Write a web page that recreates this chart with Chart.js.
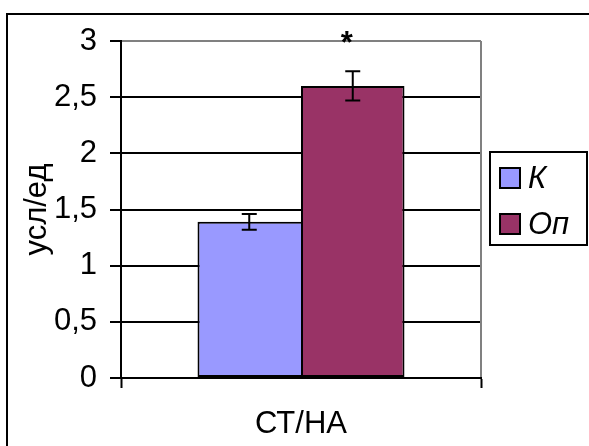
<!DOCTYPE html>
<html lang="ru">
<head>
    <meta charset="UTF-8">
    <title>СТ/НА</title>
    <script src="https://cdn.jsdelivr.net/npm/chart.js@4.4.1/dist/chart.umd.min.js"></script>
    <style>
        html, body {
            margin: 0;
            padding: 0;
            background: #fff;
        }
        .chart-box {
            position: relative;
            width: 589px;
            height: 446px;
        }
    </style>
</head>
<body>
    <div class="chart-box">
        <canvas id="chart"></canvas>
    </div>

    <script>
        // data
        const categories = ['СТ/НА'];
        const seriesNames = ['К', 'Оп'];
        const kValues = [1.39];
        const kErrors = [0.07];
        const opValues = [2.6];
        const opErrors = [0.13];
        const opMarks = ['*'];
        const yMin = 0;
        const yMax = 3;
        const yStep = 0.5;

        const colors = ['#9999ff', '#993366'];
        const errors = [kErrors, opErrors];
        const marks = [[], opMarks];
        const FONT = "'Liberation Sans', Arial, sans-serif";
        const SIZE = 31;

        // frame, right plot border, error bars, asterisk, legend
        const decorations = {
            id: 'decorations',
            beforeDraw(chart) {
                const c = chart.ctx;
                c.save();
                c.fillStyle = '#fff';
                c.fillRect(0, 0, chart.width, chart.height);
                c.strokeStyle = '#000';
                c.lineWidth = 2;
                c.strokeRect(7, 14, chart.width + 20, chart.height + 20);
                c.restore();
            },
            afterDatasetsDraw(chart) {
                const c = chart.ctx;
                const area = chart.chartArea;
                const y = chart.scales.y;
                c.save();
                // grey right border of the plot area
                c.strokeStyle = '#808080';
                c.lineWidth = 2;
                c.beginPath();
                c.moveTo(area.right, area.top);
                c.lineTo(area.right, area.bottom - 1);
                c.stroke();

                // error bars
                c.strokeStyle = '#000';
                c.lineWidth = 2;
                chart.data.datasets.forEach((ds, di) => {
                    chart.getDatasetMeta(di).data.forEach((bar, i) => {
                        const v = ds.data[i];
                        const e = errors[di][i];
                        const top = y.getPixelForValue(v + e);
                        const bot = y.getPixelForValue(v - e);
                        c.beginPath();
                        c.moveTo(bar.x, top);
                        c.lineTo(bar.x, bot);
                        c.moveTo(bar.x - 7.5, top);
                        c.lineTo(bar.x + 7.5, top);
                        c.moveTo(bar.x - 7.5, bot);
                        c.lineTo(bar.x + 7.5, bot);
                        c.stroke();

                        const m = marks[di][i];
                        if (m) {
                            c.fillStyle = '#000';
                            c.font = 'bold ' + SIZE + 'px ' + FONT;
                            c.textAlign = 'center';
                            c.textBaseline = 'alphabetic';
                            c.fillText(m, bar.x - 6, y.getPixelForValue(yMax) + 12);
                        }
                    });
                });

                // legend
                const lx = area.right + 9;
                const ly = 152;
                c.fillStyle = '#fff';
                c.fillRect(lx, ly, 97, 93);
                c.strokeStyle = '#000';
                c.lineWidth = 2;
                c.strokeRect(lx, ly, 97, 93);
                chart.data.datasets.forEach((ds, di) => {
                    const sy = ly + 16 + di * 46;
                    c.fillStyle = ds.backgroundColor;
                    c.fillRect(lx + 10, sy, 20, 20);
                    c.strokeRect(lx + 10, sy, 20, 20);
                    c.fillStyle = '#000';
                    c.font = 'italic ' + SIZE + 'px ' + FONT;
                    c.textAlign = 'left';
                    c.textBaseline = 'middle';
                    c.fillText(ds.label, lx + 38, sy + 11);
                });
                c.restore();
            }
        };

        const ctx = document.getElementById('chart').getContext('2d');
        const chart = new Chart(ctx, {
            type: 'bar',
            data: {
                labels: categories,
                datasets: [
                    {
                        label: seriesNames[0],
                        data: kValues,
                        backgroundColor: colors[0],
                        borderColor: '#000',
                        // right edge is shared with the next bar
                        borderWidth: { top: 2, left: 2, bottom: 2, right: 0 },
                        borderSkipped: false
                    },
                    {
                        label: seriesNames[1],
                        data: opValues,
                        backgroundColor: colors[1],
                        borderColor: '#000',
                        borderWidth: 2,
                        borderSkipped: false
                    }
                ]
            },
            options: {
                responsive: true,
                maintainAspectRatio: false,
                animation: false,
                datasets: {
                    bar: {
                        categoryPercentage: 0.575,
                        barPercentage: 1
                    }
                },
                layout: {
                    padding: { left: 0, top: 41, right: 108, bottom: 0 }
                },
                scales: {
                    x: {
                        offset: true,
                        afterFit(scale) { scale.height = 68; },
                        grid: {
                            offset: true,
                            drawOnChartArea: false,
                            drawTicks: true,
                            tickLength: 10,
                            tickWidth: 2,
                            tickColor: '#000'
                        },
                        border: { display: true, color: '#000', width: 2 },
                        ticks: {
                            color: '#000',
                            padding: 18,
                            font: { family: FONT, size: SIZE }
                        }
                    },
                    y: {
                        min: yMin,
                        max: yMax,
                        afterFit(scale) { scale.width = 121; },
                        grid: {
                            color: c => (c.tick && c.tick.value === yMax ? '#808080' : '#000'),
                            lineWidth: 2,
                            tickLength: 11,
                            tickWidth: 2,
                            tickColor: '#000'
                        },
                        border: { display: true, color: '#000', width: 2 },
                        ticks: {
                            stepSize: yStep,
                            color: '#000',
                            padding: 13,
                            font: { family: FONT, size: SIZE },
                            callback: v => String(v).replace('.', ',')
                        },
                        title: {
                            display: true,
                            text: 'усл/ед',
                            color: '#000',
                            font: { family: FONT, size: SIZE },
                            padding: { top: 19, bottom: 0 }
                        }
                    }
                },
                plugins: {
                    legend: { display: false },
                    tooltip: { enabled: false }
                }
            },
            plugins: [decorations]
        });
    </script>
</body>
</html>
